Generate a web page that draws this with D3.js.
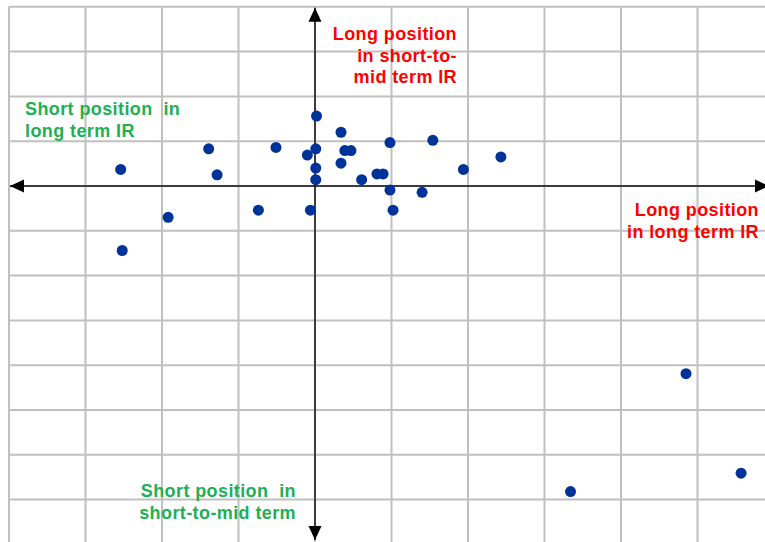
<!DOCTYPE html>
<html>
<head>
<meta charset="utf-8">
<script src="https://cdn.jsdelivr.net/npm/d3@7"></script>
<style>
  html, body { margin: 0; padding: 0; background: #fff; }
  svg { display: block; }
  text { font-family: "Liberation Sans", Arial, sans-serif; font-weight: bold; white-space: pre; }
</style>
</head>
<body>
<script>
// Data (grid units: x = long-term IR position, y = short-to-mid term IR position)
const xValues = [-2.54, -1.39, -1.28, -0.51, -0.10, -1.92, -0.74, -0.06, -2.52, 0.02,
                  0.34,  0.01,  0.39,  0.47,  0.34,  0.01,  0.01,  0.61,  0.81, 0.89,
                  0.98,  1.54,  2.43,  1.94,  0.98,  1.40,  1.02,  4.85,  3.34, 5.57];
const yValues = [ 0.37,  0.83,  0.25,  0.86,  0.69, -0.70, -0.54, -0.54, -1.44, 1.56,
                  1.20,  0.83,  0.79,  0.79,  0.51,  0.40,  0.14,  0.14,  0.27, 0.27,
                  0.97,  1.02,  0.65,  0.37, -0.09, -0.14, -0.54, -4.19, -6.82, -6.41];
const gridX = [-4, -3, -2, -1, 0, 1, 2, 3, 4, 5, 6];
const gridY = [4, 3, 2, 1, 0, -1, -2, -3, -4, -5, -6, -7, -8];
const quadrantLabels = [
  { lines: ["Long position", "in short-to-", "mid term IR"], color: "red" },
  { lines: ["Short position  in", "long term IR"], color: "green" },
  { lines: ["Long position", "in long term IR"], color: "red" },
  { lines: ["Short position  in", "short-to-mid term"], color: "green" }
];

const W = 765, H = 542;
const svg = d3.select("body").append("svg").attr("width", W).attr("height", H);

const x = d3.scaleLinear().domain([-4, 6]).range([9, 774]);
const y = d3.scaleLinear().domain([4, -8]).range([6.8, 544.4]);

const colors = { red: "#ff0000", green: "#1db054" };

// grid
const grid = svg.append("g");
grid.selectAll("line.v").data(gridX).join("line")
  .attr("x1", d => x(d)).attr("x2", d => x(d))
  .attr("y1", y(4)).attr("y2", H)
  .attr("stroke", "#c0c0c0").attr("stroke-width", 2);
grid.selectAll("line.h").data(gridY).join("line")
  .attr("y1", d => y(d)).attr("y2", d => y(d))
  .attr("x1", x(-4)).attr("x2", W)
  .attr("stroke", "#c0c0c0").attr("stroke-width", 2);

// arrow marker
const defs = svg.append("defs");
defs.append("marker").attr("id", "arr")
  .attr("viewBox", "0 0 14 14").attr("refX", 14).attr("refY", 7)
  .attr("markerWidth", 14).attr("markerHeight", 14)
  .attr("markerUnits", "userSpaceOnUse").attr("orient", "auto-start-reverse")
  .append("path").attr("d", "M0,0.5 L14,7 L0,13.5 Z").attr("fill", "#000");

// axes
svg.append("line")
  .attr("x1", x(-4) + 1).attr("x2", W + 4)
  .attr("y1", y(0)).attr("y2", y(0))
  .attr("stroke", "#111").attr("stroke-width", 1.5)
  .attr("marker-start", "url(#arr)").attr("marker-end", "url(#arr)");
svg.append("line")
  .attr("x1", x(0)).attr("x2", x(0))
  .attr("y1", y(4) + 1).attr("y2", H - 2)
  .attr("stroke", "#111").attr("stroke-width", 1.5)
  .attr("marker-start", "url(#arr)").attr("marker-end", "url(#arr)");

// points
svg.append("g").selectAll("circle").data(d3.range(xValues.length)).join("circle")
  .attr("cx", i => x(xValues[i])).attr("cy", i => y(yValues[i]))
  .attr("r", 5.5).attr("fill", "#003399");

// labels
const labelPos = [
  { x: 457, y: 40, anchor: "end" },
  { x: 25, y: 115, anchor: "start" },
  { x: 759, y: 216, anchor: "end" },
  { x: 296, y: 497, anchor: "end" }
];
quadrantLabels.forEach((lab, i) => {
  const p = labelPos[i];
  const t = svg.append("text")
    .attr("x", p.x).attr("y", p.y)
    .attr("text-anchor", p.anchor)
    .attr("fill", colors[lab.color])
    .attr("font-size", 18)
    .attr("letter-spacing", 0.4);
  lab.lines.forEach((ln, j) => {
    t.append("tspan").attr("x", p.x).attr("dy", j === 0 ? 0 : 21.5).text(ln);
  });
});
</script>
</body>
</html>
